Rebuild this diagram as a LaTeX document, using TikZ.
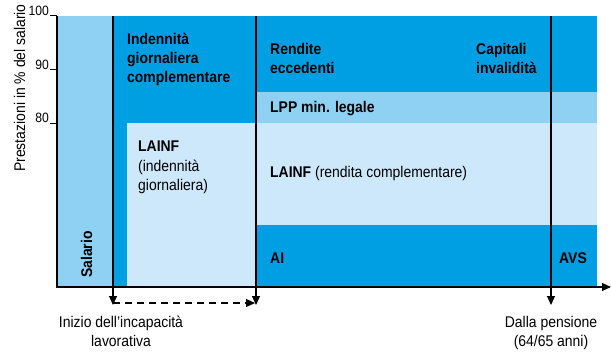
\documentclass[tikz,border=0pt]{standalone}
\usepackage{fontspec}
\setmainfont{Liberation Sans}[FakeStretch=0.9]
\usetikzlibrary{arrows.meta}

\definecolor{bluedark}{HTML}{009FE3}
\definecolor{bluemid}{HTML}{8FD1F3}
\definecolor{bluelight}{HTML}{CDE8FA}

\tikzset{
  lbl/.style={anchor=base west, inner sep=0pt, align=left, font=\fontsize{15.5}{19.5}\selectfont},
  blbl/.style={lbl, font=\fontsize{15.5}{19.5}\selectfont\bfseries},
  ticklbl/.style={anchor=base east, inner sep=0pt, font=\fontsize{13.5}{16}\selectfont},
  tip/.style={-{Triangle[length=9pt,width=8pt]}},
  axis/.style={line width=1.2pt, tip},
  markline/.style={line width=1.1pt, tip}
}

\begin{document}
\begin{tikzpicture}[x=1pt,y=-1pt]
      \useasboundingbox (0,0) rectangle (611,353);

      % Coloured blocks
      \fill[bluemid] (58,16) rectangle (113,287);
      \fill[bluedark] (113,16) rectangle (256,287);
      \fill[bluelight] (127,123) rectangle (256,287);
      \fill[bluedark] (256,16) rectangle (597,92);
      \fill[bluemid] (256,92) rectangle (597,123);
      \fill[bluelight] (256,123) rectangle (597,225);
      \fill[bluedark] (256,225) rectangle (597,287);

      % Axes
      \coordinate (ytop) at (57,16);
      \coordinate (orig) at (57,287);
      \coordinate (xend) at (611,287);
      \draw[axis] (ytop) -- (orig) -- (xend);
      \foreach \y/\v in {16/100,70/90,123/80} {
        \draw[line width=1pt] (50,\y) -- (57,\y);
        \node[ticklbl] (t\v) at (49,\y) {\v};
      }
      \node[lbl, anchor=base, rotate=90] (ylab) at (25,88) {Prestazioni in \% del salario};

      % Time marks
      \foreach \x/\n in {113/start,256/end,551/pens} {
        \coordinate (\n top) at (\x,16);
        \coordinate (\n bot) at (\x,305);
        \draw[markline] (\n top) -- (\n bot);
      }
      \coordinate (dashA) at (113,303);
      \coordinate (dashB) at (255,303);
      \draw[markline, dashed, dash pattern=on 7pt off 5pt] (dashA) -- (dashB);

      % Labels in the blocks (base = last line)
      \node[blbl, anchor=base, rotate=90] (salario) at (92,254.5) {Salario};
      \node[blbl] (igc) at (127,83) {Indennità\\giornaliera\\complementare};
      \node[lbl] (lainfi) at (138,190.5) {\textbf{LAINF}\\(indennità\\giornaliera)};
      \node[blbl] (rend) at (270,74) {Rendite\\eccedenti};
      \node[blbl] (capit) at (476,74) {Capitali\\invalidità};
      \node[blbl] (lpp) at (270,113) {LPP min. legale};
      \node[lbl] (lainfr) at (270,177) {\textbf{LAINF} (rendita complementare)};
      \node[blbl] (ai) at (270,263) {AI};
      \node[blbl] (avs) at (559,263) {AVS};

      % Labels below
      \node[lbl, anchor=base, align=center] (inizio) at (121,346.5) {Inizio dell’incapacità\\lavorativa};
      \node[lbl, anchor=base, align=center] (pensione) at (551,346.5) {Dalla pensione\\(64/65 anni)};

\end{tikzpicture}
\end{document}
